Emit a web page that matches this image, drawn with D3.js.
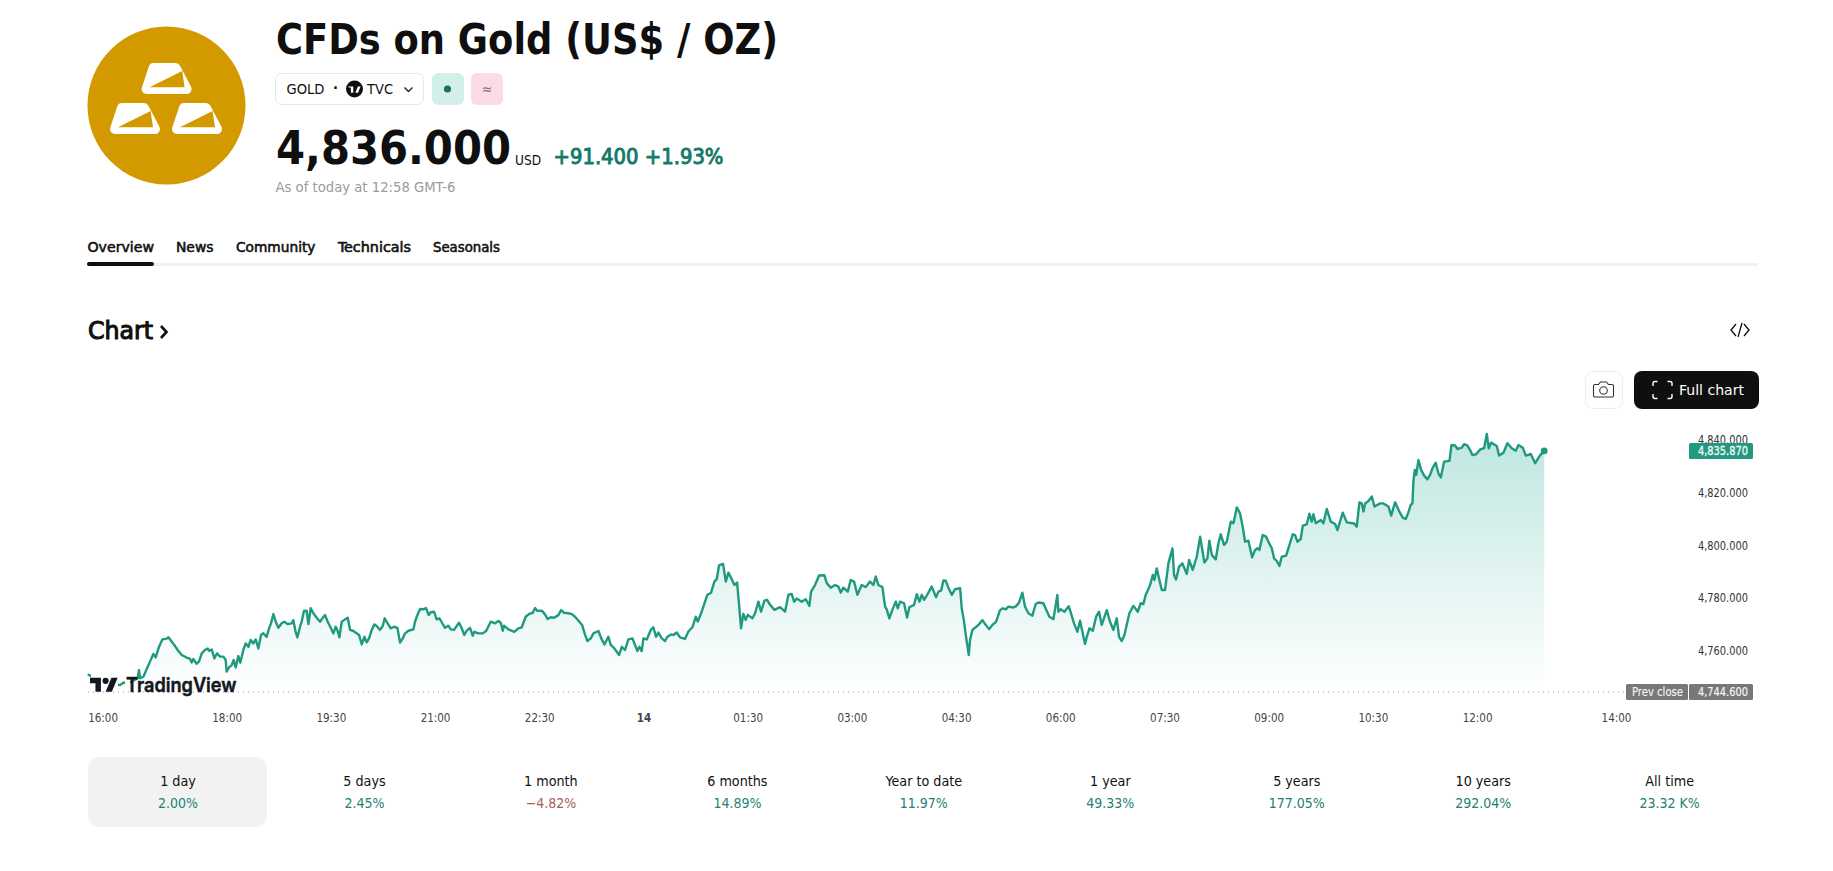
<!DOCTYPE html>
<html><head><meta charset="utf-8">
<script src="https://cdn.jsdelivr.net/npm/d3@7/dist/d3.min.js"></script>
<style>
html,body{margin:0;padding:0;background:#fff;overflow:hidden}
svg{display:block}
text{font-family:"DejaVu Sans Condensed","DejaVu Sans",sans-serif}
</style></head><body>
<script>
// ---- data (minutes since 16:00 session open, price in USD) ----
const minutes=[0,9.2,19.3,27.9,30.8,38,43.2,44.3,45.2,48.1,50.9,53.8,56.7,58.7,61.6,64.5,68.2,69.7,72,74.8,77.7,81.2,85.5,88.4,89.8,91.2,94.1,96.1,98.5,101.3,103.6,104.8,107.1,109.4,111.7,114.3,117.2,119.2,120,122.1,124.4,126.1,127.8,130.1,131.8,134.4,136.5,138.8,140.8,143.1,145.1,147.4,149.7,151.7,154.6,156.6,158.3,160.4,162.4,164.7,167.5,169.9,172.7,176.2,177.6,179.6,181.1,183.4,184.8,186.8,189.1,190.6,192.6,194.9,197.8,200.7,202.7,205,207.3,209.9,212.2,214.2,215.6,217.4,219.4,222.3,224.6,226.6,229.5,232.3,234.4,236.7,239,241,243,245.3,247.6,249.6,252.5,254.8,
256.5,258.8,261.7,264.6,267.5,269.8,272.1,274.1,277,281.3,282.7,284.7,287.1,289.9,292.2,294.5,296.3,299.1,301.4,303.8,305.5,308.6,311.5,313.5,316.4,320.7,322.5,325.3,327.4,330.2,332.5,334,337.4,341.2,344.1,348.1,351.8,354.7,356.7,358.5,359.6,363.4,368.5,372,374.9,378.3,381.5,384.4,386.4,388.4,392.2,395,397.3,399.9,402.8,406.5,408.9,411.4,415.2,418.1,420.9,424.7,427,429.6,431.6,434.5,436.8,441.1,444,446.3,449.7,451.8,454.9,458.9,461.3,464.1,467,470.5,474.8,476.5,478.5,480,482.9,486.3,488.6,490.9,492.9,495.8,498.7,500.7,503.9,505.9,
508.7,511.6,515.9,518.8,522.3,525.2,526.9,529.8,533.2,535.2,538.4,541.3,543.3,545.3,548.8,551.1,553.4,556.3,558.6,560.9,562.6,564.3,566.3,568.3,570.1,574.1,576.4,579.3,581.6,584.5,586.8,589.4,593.1,598,602.3,605.2,608.1,610.1,612.4,616.7,620.2,623.3,624.8,628.2,631.7,636.3,638.3,641.8,645.5,648.4,650.4,652.7,656.5,659,661.9,664.8,668.5,672,675.7,678.6,680.6,682.9,686.4,688.7,690.1,692.4,695,697.9,699.6,701.7,705.1,707.7,709.7,713.7,716.1,718.4,720.4,722.4,724.7,729,732.7,734.8,737.1,739.1,741.1,743.4,746.3,749.2,753.5,754.9,756.7,758.4,759.5,761,762.1,764.1,
766.4,769.3,772.8,775.1,778.5,781.4,784.6,788,790.3,792.9,795.2,799.5,801.8,804.4,807.3,809.6,812.5,815.9,818.8,821.1,825.4,827.7,830.6,834.1,837.5,838.4,840.4,843.6,847.3,849.3,851.9,854.8,857.1,861.4,862.9,865.2,868.1,871,873.5,875.8,880.2,883,885.9,888.8,890.8,893.1,895.4,899.7,903.2,907,909.5,911.8,913.8,917.6,919.9,921.3,923.3,925.6,927.7,930.5,933.4,936.9,938.3,940,942.6,945.5,949.3,951.3,954.4,957.9,960.8,964.5,967.1,968.8,970.9,974.3,976.6,978.6,981.5,983.8,987.3,989.6,992.5,995.3,997.6,999.6,1002.5,1005.7,1008.3,1010.3,1012,
1014.9,1017.8,1019.8,1022.7,1024.7,1027,1029.3,1031.3,1035.1,1037.9,1040.8,1042.8,1044.8,1047.7,1049.5,1052.9,1055.2,1057.2,1058.7,1060.7,1065,1067.3,1070.2,1073.6,1077.4,1079.4,1084,1087.5,1093.8,1096.1,1098.4,1100.4,1101.9,1103.3,1106.2,1109.1,1111.4,1116.3,1119.1,1123.5,1125.8,1129.2,1132.7,1135.8,1138.4,1140.7,1142.7,1144.2,1145,1146.2,1147.4,1149.4,1151.7,1154.3,1157.1,1159.4,1161.5,1164.3,1166.6,1168.7,1171.5,1176.2,1177.9,1181,1183.1,1186.8,1188.8,1191.7,1194,1196,1199.2,1202.6,1206.1,1208.4,1210.1,1212.1,1217,1219,1222.8,1226.2,1230,1233.4,1235.8,1239.5,1242.1,1246.4,1250.2,1254.5,1258];
const prices=[4751.3,4749.1,4747.9,4747.2,4748.1,4748.5,4749.8,4752.9,4749.8,4750.4,4753.2,4756.1,4759,4757.7,4761.7,4764.5,4764.8,4765.3,4764,4762.4,4760.5,4758.6,4757.6,4757.1,4755.8,4757.1,4755.3,4756.1,4759.2,4760.5,4761.1,4760.2,4760.7,4757.3,4759.2,4758,4758,4756.7,4752.3,4753.9,4754.8,4756.7,4753.9,4758.2,4755.7,4760.5,4763,4761.7,4764.3,4763,4764.5,4761.1,4766.2,4766.8,4765.5,4768.7,4770.6,4774.1,4771.2,4768.9,4770.6,4771.2,4770.3,4770.6,4771.8,4767.4,4765.3,4769.3,4771.2,4775.3,4775.4,4770.3,4776.3,4774.4,4772.7,4771.2,4772.5,4773.7,4771.2,4768.9,4766.8,4769.3,4768.1,4765.3,4771.2,4772.1,4772.7,4768.1,4767.7,4766.8,4766.2,4762.6,4765.5,4763.4,4764.9,4768.1,4770.2,4769.6,4768.1,4769.6,
4772.5,4770.8,4768.7,4769.3,4768.9,4763.3,4764.9,4766.8,4767.8,4768.3,4771.2,4773.7,4776,4775.9,4776.4,4773.7,4774.8,4775,4772.1,4772.5,4771.2,4768.9,4769.7,4768.3,4768.1,4770.8,4769.3,4766.2,4767.8,4768.9,4765.9,4767.4,4766.8,4766.8,4767.7,4771.2,4770.6,4771.5,4770.8,4767.8,4769.7,4768.3,4767.4,4768.7,4769.1,4773.1,4774.2,4774.6,4776.4,4775.3,4775.4,4774,4772.2,4772.9,4772.7,4773.7,4775.6,4774.6,4774.4,4774.1,4773.1,4771.2,4770,4766.2,4763.9,4764.9,4766.8,4767.7,4764.5,4762.6,4765.5,4762.4,4761.1,4758.6,4761.7,4760.5,4764.5,4764.9,4760.1,4761.7,4760.1,4764.9,4764.5,4768.1,4769.1,4765.5,4767.1,4764.9,4763.9,4765.5,4766.4,4766.2,
4767.1,4765.3,4764.7,4767.5,4769.1,4773.1,4771.3,4774.4,4778.8,4781.4,4782.2,4786.4,4787.3,4792.5,4793.1,4786.4,4789.8,4787.3,4785.1,4786,4777.6,4768.7,4774.2,4771.9,4773.8,4772.5,4774.4,4778.8,4775,4779.2,4779.5,4777.6,4775.7,4776.7,4775,4781.4,4781.7,4778.8,4780,4778.8,4779.7,4777.2,4782.6,4785.1,4788.7,4788.8,4785.8,4784.1,4785.1,4784.5,4782.2,4784.1,4782.6,4787,4786.4,4781.4,4785.1,4784.3,4786.4,4785.1,4788.3,4785.1,4784.3,4776.9,4775.9,4772.5,4775.7,4778.8,4776.3,4778.8,4778.2,4772.8,4776.7,4777.6,4781.6,4778.8,4781.4,4779.5,4781.1,4784.5,4780.5,4782.6,4783,4786.8,4786.7,4784.1,4781.4,4783.5,4783.9,4776.3,4771.9,4766.2,4763,4758.6,4764.3,4768.1,
4768.9,4770,4771.8,4770.3,4768.4,4770,4771.2,4775.6,4776.3,4775.9,4776.9,4776.6,4777.1,4778.4,4782.2,4776.9,4774.4,4773.5,4777.9,4778.5,4778.2,4775.9,4773.1,4772.2,4781.3,4775,4775.9,4775,4777.1,4774.4,4770.6,4767.4,4771.6,4762.8,4765.5,4768.7,4767.8,4773.1,4775,4770,4775.6,4771.2,4768.1,4772.5,4765.5,4763.9,4766.2,4774.4,4777.2,4775,4778.2,4777.9,4781.3,4785.1,4788.9,4787,4791.4,4787,4783.2,4783.2,4793.3,4799,4788.9,4787.2,4792,4793.3,4789.3,4794.6,4790.8,4795.8,4803.4,4793.6,4795.2,4801.9,4796.5,4794.8,4800.9,4804.3,4800.3,4801.5,4809.1,4808.5,4814.5,4812.2,4807.2,4801.5,4801.9,4795.6,4798.4,4799,4798.4,
4804,4803.4,4801.5,4799,4795.2,4794.2,4792.3,4795.8,4796.2,4800.2,4804.3,4804,4801.5,4802.5,4807.6,4808.1,4812.1,4809.1,4811.9,4808.5,4809.7,4808.5,4813.9,4809.1,4808.2,4805.9,4812.5,4808.8,4808.4,4807.2,4816.4,4816,4812.9,4816,4816.9,4818.6,4814.8,4816,4816,4814.8,4811.4,4816.4,4813.1,4810.6,4810.1,4812.6,4815.4,4816,4824.2,4828.7,4826.8,4832.4,4828.7,4826.5,4825.1,4826.8,4829.3,4831.4,4827.4,4825.8,4831.8,4832.1,4838.1,4837.9,4836.6,4837.1,4838.4,4837.9,4836.2,4834.3,4834.6,4836.4,4836.9,4842.3,4836.9,4839,4837.7,4834.1,4835.2,4838.8,4836.9,4835.9,4838.1,4837.1,4834.1,4834.7,4831.2,4834.3,4835.87];

const priceTicks=[4840,4820,4800,4780,4760];
const timeTicks=[0,120,210,300,390,480,570,660,750,840,930,1020,1110,1200,1320];
const timeLabels=["16:00","18:00","19:30","21:00","22:30","14","01:30","03:00","04:30","06:00","07:30","09:00","10:30","12:00","14:00"];
const prevClose=4744.6, lastPrice=4835.87;
const periods=["1 day","5 days","1 month","6 months","Year to date","1 year","5 years","10 years","All time"];
const changes=["2.00%","2.45%","−4.82%","14.89%","11.97%","49.33%","177.05%","292.04%","23.32 K%"];
const tabs=["Overview","News","Community","Technicals","Seasonals"];

const W=1833,H=871;
const svg=d3.select("body").append("svg").attr("width",W).attr("height",H);
const defs=svg.append("defs");
const UP="#1f9a80", TEAL="#137a6a", INK="#0f0f0f";
const FONT='"DejaVu Sans Condensed","DejaVu Sans",sans-serif';

function T(x,y,s,o={}){
  const t=svg.append("text").attr("x",x).attr("y",y).text(s)
   .attr("font-size",o.size||14).attr("fill",o.fill||INK).attr("font-weight",o.weight||400)
   .attr("text-anchor",o.anchor||"start");
  if(o.len) t.attr("textLength",o.len).attr("lengthAdjust","spacingAndGlyphs");
  if(o.thick) t.attr("stroke",o.fill||INK).attr("stroke-width",o.thick);
  return t;
}
// ---- gold logo ----
svg.append("circle").attr("cx",166.5).attr("cy",105.5).attr("r",79).attr("fill","#d39a00");
[[141.6,63],[110,103],[172,103]].forEach(([x,y])=>{
  const g=svg.append("g").attr("transform",`translate(${x},${y})`);
  g.append("path").attr("d","M12,5 L34,5 L45,26 L5,26 Z").attr("fill","#fff").attr("stroke","#fff").attr("stroke-width",10).attr("stroke-linejoin","round");
  g.append("path").attr("d","M8,24.2 L43,24.2 L40.6,8 Z").attr("fill","#d39a00");
});
// ---- heading ----
T(276,54,"CFDs on Gold (US$ / OZ)",{size:42,weight:700,len:502});
svg.append("rect").attr("x",275.5).attr("y",73.5).attr("width",148).attr("height",31).attr("rx",6).attr("fill","#fff").attr("stroke","#e6e6e6");
T(286.5,94,"GOLD",{size:14.5,len:38});
T(333,93,"·",{size:14.5,weight:700});
svg.append("circle").attr("cx",354.5).attr("cy",89).attr("r",8.5).attr("fill","#0f0f0f");
svg.append("path").attr("transform","translate(348.5,85.2) scale(0.34)").attr("fill","#fff")
  .attr("d","M14 22H7V7H0V4h14v18zM28 22h-8l7.5-18h8L28 22z");
T(367,94,"TVC",{size:14.5,len:26});
svg.append("path").attr("d","M404.5,87.5 L408.5,91.5 L412.5,87.5").attr("fill","none").attr("stroke","#222").attr("stroke-width",1.4);
svg.append("rect").attr("x",432).attr("y",73).attr("width",32).attr("height",32).attr("rx",6).attr("fill","#d3efea");
svg.append("circle").attr("cx",447.5).attr("cy",89).attr("r",3.6).attr("fill","#1b6f60");
svg.append("rect").attr("x",471).attr("y",73).attr("width",32).attr("height",32).attr("rx",6).attr("fill","#fbdbe6");
T(487,94,"≈",{size:14,anchor:"middle",fill:"#7b6a70"});
T(276,164,"4,836.000",{size:46,weight:700,len:235});
T(515,165,"USD",{size:14.5,len:26});
T(553.5,164,"+91.400 +1.93%",{size:21,fill:TEAL,len:170,thick:0.9});
T(275.5,191.5,"As of today at 12:58 GMT-6",{size:14,fill:"#9b9b9b",len:180});
// ---- tabs ----
const tabX=[87.5,176,236,338,433], tabW=[66.5,37.5,79.5,73,67];
tabs.forEach((s,i)=>T(tabX[i],252,s,{size:14.5,fill:"#111",len:tabW[i],thick:0.55}));
svg.append("rect").attr("x",87).attr("y",263).attr("width",1671).attr("height",3).attr("fill","#f0f0f0");
svg.append("rect").attr("x",87).attr("y",262).attr("width",67).attr("height",4).attr("rx",2).attr("fill","#0f0f0f");
// ---- section header ----
T(88,339,"Chart",{size:24,fill:INK,len:65,thick:1});
svg.append("path").attr("d","M161,326 L166.5,332 L161,338").attr("fill","none").attr("stroke",INK).attr("stroke-width",2.6);
svg.append("path").attr("d","M1736,324 L1731,330 L1736,336 M1744,324 L1749,330 L1744,336 M1742,323 L1738,337").attr("fill","none").attr("stroke",INK).attr("stroke-width",1.3);
// ---- buttons ----
svg.append("rect").attr("x",1585.5).attr("y",371.5).attr("width",37).attr("height",37).attr("rx",8).attr("fill","#fff").attr("stroke","#ededed");
svg.append("path").attr("d","M1595,384.5 h3.5 l2,-2.5 h6 l2,2.5 h3.5 a1.5,1.5 0 0 1 1.5,1.5 v9.5 a1.5,1.5 0 0 1 -1.5,1.5 h-17 a1.5,1.5 0 0 1 -1.5,-1.5 v-9.5 a1.5,1.5 0 0 1 1.5,-1.5 z").attr("fill","none").attr("stroke","#333").attr("stroke-width",1.1);
svg.append("circle").attr("cx",1603.5).attr("cy",390.5).attr("r",3.8).attr("fill","none").attr("stroke","#333").attr("stroke-width",1.1);
svg.append("rect").attr("x",1634).attr("y",371).attr("width",125).attr("height",38).attr("rx",8).attr("fill","#0f0f0f");
svg.append("path").attr("d","M1653,386 v-2.5 a2,2 0 0 1 2,-2 h2.5 M1667.5,381.5 h2.5 a2,2 0 0 1 2,2 v2.5 M1672,394 v2.5 a2,2 0 0 1 -2,2 h-2.5 M1657.5,398.5 h-2.5 a2,2 0 0 1 -2,-2 v-2.5").attr("fill","none").attr("stroke","#fff").attr("stroke-width",1.4);
T(1679,395,"Full chart",{size:14.5,fill:"#fff",len:65});

// ---- chart ----
const x=d3.scaleLinear().domain([0,1320]).range([87.7,1616]);
const y=d3.scaleLinear().domain([prevClose,4840]).range([692,440]);
const pts=minutes.map((m,i)=>({m,p:prices[i]}));
const grad=defs.append("linearGradient").attr("id","fillGrad").attr("gradientUnits","userSpaceOnUse")
  .attr("x1",0).attr("x2",0).attr("y1",y(4845)).attr("y2",y(prevClose));
grad.append("stop").attr("offset",0).attr("stop-color","#22ab94").attr("stop-opacity",0.30);
grad.append("stop").attr("offset",1).attr("stop-color","#22ab94").attr("stop-opacity",0.0);
svg.append("path").datum(pts).attr("fill","url(#fillGrad)")
  .attr("d",d3.area().x(d=>x(d.m)).y0(y(prevClose)).y1(d=>y(d.p)));
svg.append("path").datum(pts).attr("fill","none").attr("stroke",UP).attr("stroke-width",2.4).attr("stroke-linejoin","round")
  .attr("d",d3.line().x(d=>x(d.m)).y(d=>y(d.p)));
svg.append("circle").attr("cx",x(minutes[minutes.length-1])).attr("cy",y(lastPrice)).attr("r",3.4).attr("fill",UP);
svg.append("line").attr("x1",88).attr("x2",1626).attr("y1",y(prevClose)).attr("y2",y(prevClose))
  .attr("stroke","#9a9a9a").attr("stroke-width",1).attr("stroke-dasharray","1 4");
// tradingview watermark (sits on a white plate that hides the line's first minutes)
const wm=svg.append("g");
wm.append("rect").attr("x",91).attr("y",672).attr("width",27).attr("height",19).attr("fill","#fff");
wm.append("rect").attr("x",125).attr("y",677).attr("width",5).attr("height",12).attr("fill","#fff");
wm.append("path").attr("transform","translate(90,674.6) scale(0.78)").attr("fill","#131722").attr("d","M14 22H7V11H0V4h14v18zM28 22h-8l7.5-18h8L28 22z");
wm.append("circle").attr("cx",105.6).attr("cy",680.8).attr("r",3.1).attr("fill","#131722");
svg.append("text").attr("x",126).attr("y",691.5).text("TradingView").attr("font-size",20).attr("font-weight",600)
  .attr("fill","#131722").attr("stroke","#131722").attr("stroke-width",0.5)
  .attr("textLength",110.5).attr("lengthAdjust","spacingAndGlyphs").style("font-family","Inter,'Open Sans',sans-serif");
// axes
const yAxis=d3.axisRight(y).tickValues(priceTicks).tickSize(0).tickPadding(0).tickFormat(d=>d3.format(",.3f")(d));
const gy=svg.append("g").attr("transform","translate(1698,-0.5)").call(yAxis);
gy.select(".domain").remove();
gy.selectAll("text").attr("font-size",12).attr("fill","#333").style("font-family",FONT).attr("textLength",50).attr("lengthAdjust","spacingAndGlyphs");
const xAxis=d3.axisBottom(x).tickValues(timeTicks).tickSize(0).tickPadding(0).tickFormat((d,i)=>timeLabels[i]);
const gx=svg.append("g").attr("transform","translate(0,714)").call(xAxis);
gx.select(".domain").remove();
gx.selectAll("text").attr("font-size",11.5).attr("fill","#444").style("font-family",FONT).attr("font-weight",(d,i)=>timeLabels[i]==="14"?700:400);
gx.selectAll("text").filter((d,i)=>i===0).attr("text-anchor","start");
// price tags
function tag(x0,w,yc,fill,s,tx,len,thick){
  svg.append("rect").attr("x",x0).attr("y",yc-8).attr("width",w).attr("height",16).attr("rx",1.5).attr("fill",fill);
  T(tx,yc+4,s,{size:12,fill:"#f4f4f4",len,thick});
}
tag(1689,64,y(lastPrice),UP,d3.format(",.3f")(lastPrice),1698,50,0.35);
tag(1626,62,y(prevClose),"#787878","Prev close",1632,51,0.15);
tag(1689,64,y(prevClose),"#787878",d3.format(",.3f")(prevClose),1698,50,0.2);
// ---- periods ----
svg.append("rect").attr("x",88).attr("y",757).attr("width",179).attr("height",70).attr("rx",12).attr("fill","#f2f2f2");
const px=d3.scalePoint().domain(periods).range([178,1669.7]);
periods.forEach((s,i)=>{
  T(px(s),785.5,s,{size:14.2,anchor:"middle",fill:"#111"});
  T(px(s),807.5,changes[i],{size:14,anchor:"middle",fill:changes[i].startsWith("−")?"#a2605c":"#1c8272"});
});
</script>
</body></html>
